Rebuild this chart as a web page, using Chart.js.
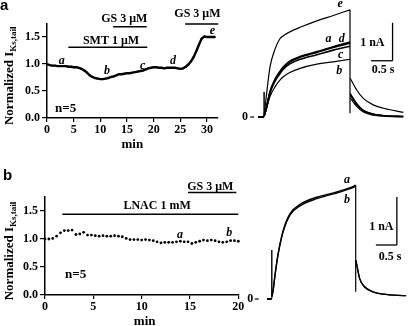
<!DOCTYPE html>
<html><head><meta charset="utf-8">
<script src="https://cdn.jsdelivr.net/npm/chart.js@4.4.1/dist/chart.umd.min.js"></script>
<style>
html,body{margin:0;padding:0;background:#fff;}
#wrap{position:relative;width:409px;height:326px;overflow:hidden;background:#fff;}
canvas{position:absolute;left:0;top:0;}
</style></head><body>
<div id="wrap">
<canvas id="c1" width="409" height="326"></canvas>
<canvas id="c2" width="409" height="326"></canvas>
<canvas id="c3" width="409" height="326"></canvas>
<canvas id="c4" width="409" height="326"></canvas>
</div>
<script>
// ---------- DATA ----------
// Panel a (left): normalized IKs,tail vs time (min)
const timeA = [0,0.5,1,1.5,2,2.5,3,3.5,4,4.5,5,5.5,6,6.5,7,7.5,8,8.5,9,9.5,10,10.5,11,11.5,12,12.5,13,13.5,14,14.5,15,15.5,16,16.5,17,17.5,18,18.5,19,19.5,20,20.5,21,21.5,22,22.5,23,23.5,24,24.5,25,25.5,26,26.5,27,27.5,28,28.5,29,29.5,30,30.5,31,31.5];
const ikA = [1.00,0.98,0.97,0.97,0.96,0.96,0.96,0.96,0.95,0.95,0.94,0.94,0.93,0.91,0.88,0.84,0.79,0.76,0.74,0.73,0.72,0.72,0.73,0.74,0.76,0.77,0.79,0.81,0.81,0.82,0.83,0.83,0.84,0.85,0.86,0.87,0.88,0.90,0.92,0.93,0.94,0.94,0.93,0.93,0.92,0.93,0.93,0.93,0.93,0.92,0.91,0.92,0.95,0.99,1.05,1.13,1.24,1.36,1.47,1.51,1.50,1.50,1.50,1.50];
// Panel b (left)
const timeB = [0,0.4,0.8,1.2,1.6,2.0,2.4,2.8,3.2,3.6,4.0,4.4,4.8,5.2,5.6,6.0,6.4,6.8,7.2,7.6,8.0,8.4,8.8,9.2,9.6,10.0,10.4,10.8,11.2,11.6,12.0,12.4,12.8,13.2,13.6,14.0,14.4,14.8,15.2,15.6,16.0,16.4,16.8,17.2,17.6,18.0,18.4,18.8,19.2,19.6,20.0];
const ikB = [1.00,1.00,1.01,1.05,1.11,1.15,1.15,1.16,1.08,1.09,1.12,1.07,1.07,1.06,1.05,1.06,1.05,1.05,1.06,1.05,1.04,1.01,0.99,0.99,0.99,0.98,0.99,0.98,0.97,0.95,0.93,0.94,0.94,0.94,0.95,0.96,0.95,0.95,0.92,0.94,0.96,0.98,0.97,0.98,0.97,0.95,0.94,0.95,0.97,0.97,0.96];
const xTicksA = [0,5,10,15,20,25,30];
const xTicksB = [0,5,10,15,20];
const yTicks = [0,0.5,1.0,1.5];

// Panel a (right): current traces (nA) vs time (s)
const actTimeA = [0.005,0.06,0.14,0.26,0.37,0.45,0.6,0.84,1.23,1.61,2.0];
const actE = [0.05,0.61,1.32,1.80,2.06,2.14,2.24,2.36,2.53,2.67,2.82];
const actAa = [0.03,0.27,0.67,1.00,1.20,1.32,1.47,1.59,1.72,1.85,1.97];
const actD = [0.03,0.26,0.66,0.99,1.18,1.30,1.45,1.57,1.70,1.83,1.94];
const actC = [0.03,0.25,0.63,0.95,1.14,1.26,1.40,1.52,1.64,1.76,1.86];
const actBb = [0.02,0.23,0.54,0.80,0.97,1.06,1.17,1.28,1.39,1.45,1.52];
const tailTimeA = [2.005,2.155,2.31,2.54,2.78,3.24];
const tailE = [1.02,0.71,0.49,0.32,0.23,0.12];
const tailAa = [0.62,0.36,0.18,0.08,0.04,0.02];
const tailD = [0.60,0.34,0.17,0.08,0.04,0.02];
const tailC = [0.57,0.32,0.16,0.07,0.03,0.01];
const tailBb = [0.50,0.28,0.13,0.05,0.02,0.00];
const stepTimeA = [-0.14,0,0,0.005];
const stepValA = [0,0,0.66,0.03];
const dropTimeA = [2.0,2.0];
const dropValA = [2.82,0.10];

// Panel b (right)
const actTimeB = [0.005,0.04,0.079,0.159,0.278,0.437,0.675,1.07,1.47,1.87,2.0];
const actBa = [0.05,0.22,0.50,0.97,1.44,1.78,1.97,2.12,2.21,2.32,2.37];
const actBbb = [0.05,0.22,0.50,0.96,1.42,1.75,1.94,2.09,2.19,2.30,2.35];
const tailTimeB = [2.005,2.095,2.21,2.41,2.65,3.2];
const tailBa = [0.81,0.43,0.26,0.15,0.10,0.07];
const tailBbb = [0.80,0.42,0.25,0.15,0.10,0.07];
const stepTimeB = [-0.11,0,0,0.005];
const stepValB = [0,0,1.02,0.05];
const dropTimeB = [2.0,2.0];
const dropValB = [2.37,0.15];

// ---------- HELPERS ----------
Chart.defaults.color = '#000';
Chart.defaults.animation = false;
const SERIF = '"Liberation Serif", "Times New Roman", serif';
const LF = 'bold 12px ' + SERIF;
const LF13 = 'bold 13px ' + SERIF;
const IF = 'italic bold 12px ' + SERIF;
const pts = (t, v) => t.map((x, i) => ({x: x, y: v[i]}));

function drawYTitle(ctx, cx, cy) {
  ctx.save();
  ctx.translate(cx, cy);
  ctx.rotate(-Math.PI / 2);
  const main = 'Normalized I', sub = 'Ks,tail';
  const f1 = 'bold 13px ' + SERIF, f2 = 'bold 9px ' + SERIF;
  ctx.font = f1; const w1 = ctx.measureText(main).width;
  ctx.font = f2; const w2 = ctx.measureText(sub).width;
  const s = -(w1 + w2) / 2;
  ctx.textAlign = 'left'; ctx.textBaseline = 'alphabetic'; ctx.fillStyle = '#000';
  ctx.font = f1; ctx.fillText(main, s, 4);
  ctx.font = f2; ctx.fillText(sub, s + w1, 7);
  ctx.restore();
}

const notesPlugin = {
  id: 'notes',
  afterDraw(chart, args, opts) {
    const ctx = chart.ctx, x = chart.scales.x, y = chart.scales.y;
    ctx.save();
    ctx.fillStyle = '#000'; ctx.strokeStyle = '#000';
    (opts.bars || []).forEach(b => {
      ctx.lineWidth = b.w || 1.5;
      ctx.beginPath();
      ctx.moveTo(x.getPixelForValue(b.x1), y.getPixelForValue(b.y1));
      ctx.lineTo(x.getPixelForValue(b.x2), y.getPixelForValue(b.y2));
      ctx.stroke();
    });
    (opts.texts || []).forEach(t => {
      ctx.font = t.font; ctx.textAlign = t.align || 'center'; ctx.textBaseline = 'middle';
      ctx.fillText(t.s, x.getPixelForValue(t.x), y.getPixelForValue(t.y));
    });
    const ca = chart.chartArea;
    if (opts.yTitle) drawYTitle(ctx, 8.5, (ca.top + ca.bottom) / 2 + 5);
    if (opts.xTitle) {
      ctx.font = LF13; ctx.textAlign = 'center'; ctx.textBaseline = 'middle';
      ctx.fillText(opts.xTitle, (ca.left + ca.right) / 2 + (opts.xTitleShift || 0), ca.bottom + 27);
    }
    if (opts.panel) {
      ctx.font = 'bold 15px "Liberation Sans", Arial, sans-serif';
      ctx.textAlign = 'left'; ctx.textBaseline = 'alphabetic';
      ctx.fillText(opts.panel.s, opts.panel.px, opts.panel.py);
    }
    ctx.restore();
  }
};
Chart.register(notesPlugin);

function axisX(min, max, ticks) {
  return {
    type: 'linear', min: min, max: max,
    afterBuildTicks: s => { s.ticks = ticks.map(v => ({value: v})); },
    afterFit: s => { s.height = 30; },
    ticks: {font: {family: SERIF, weight: 'bold', size: 12}, color: '#000', padding: 1, maxRotation: 0, autoSkip: false},
    grid: {drawOnChartArea: false, drawTicks: true, tickLength: 4, color: '#000', lineWidth: 1.2},
    border: {display: true, color: '#000', width: 1.5}
  };
}
function axisY() {
  return {
    type: 'linear', min: 0, max: 1.75,
    afterBuildTicks: s => { s.ticks = yTicks.map(v => ({value: v})); },
    afterFit: s => { s.width = 30; },
    ticks: {font: {family: SERIF, weight: 'bold', size: 12}, color: '#000', padding: 2, callback: v => v.toFixed(1)},
    grid: {drawOnChartArea: false, drawTicks: true, tickLength: 5, color: '#000', lineWidth: 1.2},
    border: {display: true, color: '#000', width: 1.5}
  };
}
const hidden = (min, max) => ({type: 'linear', min: min, max: max, display: false});
function trace(t, v, w) {
  return {data: pts(t, v), borderColor: '#000', borderWidth: w || 1.2, pointRadius: 0,
          fill: false, cubicInterpolationMode: 'monotone', clip: false};
}
function straight(t, v, w) {
  return {data: pts(t, v), borderColor: '#000', borderWidth: w || 1.2, pointRadius: 0,
          fill: false, tension: 0, clip: false};
}
const baseOpts = (padding, scales, notes) => ({
  responsive: false, animation: false, events: [],
  layout: {padding: padding},
  plugins: {legend: {display: false}, tooltip: {enabled: false}, notes: notes},
  scales: scales
});

// ---------- Panel a left ----------
new Chart(document.getElementById('c1'), {
  type: 'line',
  data: {datasets: [{
    data: pts(timeA, ikA), borderColor: '#000', borderWidth: 2.4, pointStyle: 'rect',
    pointRadius: 1.2, pointBackgroundColor: '#000', pointBorderWidth: 0, tension: 0, clip: false
  }]},
  options: baseOpts({left: 17, top: 23.5, right: 191.3, bottom: 178},
    {x: axisX(0, 32, xTicksA), y: axisY()},
    {
      bars: [{x1: 12.4, x2: 18.7, y1: 1.69, y2: 1.69}, {x1: 4.0, x2: 18.8, y1: 1.31, y2: 1.31},
             {x1: 25.9, x2: 32.1, y1: 1.74, y2: 1.74}],
      texts: [
        {s: 'GS 3 μM', x: 14.5, y: 1.84, font: LF}, {s: 'SMT 1 μM', x: 12.0, y: 1.435, font: LF},
        {s: 'GS 3 μM', x: 28.2, y: 1.92, font: LF},
        {s: 'a', x: 2.76, y: 1.06, font: IF}, {s: 'b', x: 11.25, y: 0.87, font: IF},
        {s: 'c', x: 17.95, y: 0.96, font: IF}, {s: 'd', x: 23.6, y: 1.06, font: IF},
        {s: 'e', x: 31.0, y: 1.61, font: IF},
        {s: 'n=5', x: 1.5, y: 0.17, font: LF13, align: 'left'}
      ],
      yTitle: true, xTitle: 'min', panel: {s: 'a', px: 0, py: 10}
    })
});

// ---------- Panel a right ----------
new Chart(document.getElementById('c2'), {
  type: 'line',
  data: {datasets: [
    straight(stepTimeA, stepValA, 1.0), straight(dropTimeA, dropValA, 1.2),
    trace(actTimeA, actE), trace(actTimeA, actAa, 1.6), trace(actTimeA, actD, 1.6), trace(actTimeA, actC, 1.6), trace(actTimeA, actBb),
    trace(tailTimeA, tailE), trace(tailTimeA, tailAa), trace(tailTimeA, tailD), trace(tailTimeA, tailC), trace(tailTimeA, tailBb)
  ]},
  options: baseOpts({left: 242.5, top: 3, right: 3.1, bottom: 197.6},
    {x: hidden(-0.5, 3.3), y: hidden(-0.3, 3.0)},
    {
      bars: [{x1: 2.99, x2: 2.99, y1: 1.48, y2: 2.48, w: 1.3}, {x1: 2.49, x2: 2.99, y1: 1.48, y2: 1.48, w: 1.3},
             {x1: -0.32, x2: -0.23, y1: 0, y2: 0, w: 1.2}, {x1: -0.14, x2: 0, y1: 0, y2: 0, w: 2}],
      texts: [
        {s: 'e', x: 1.77, y: 2.97, font: IF}, {s: 'a', x: 1.50, y: 2.05, font: IF},
        {s: 'd', x: 1.81, y: 2.05, font: IF}, {s: 'c', x: 1.78, y: 1.63, font: IF},
        {s: 'b', x: 1.75, y: 1.21, font: IF},
        {s: '1 nA', x: 2.52, y: 1.96, font: LF}, {s: '0.5 s', x: 2.77, y: 1.24, font: LF},
        {s: '0', x: -0.44, y: 0, font: LF}
      ]
    })
});

// ---------- Panel b left ----------
new Chart(document.getElementById('c3'), {
  type: 'line',
  data: {datasets: [{
    data: pts(timeB, ikB), showLine: false, pointStyle: 'circle', pointRadius: 1.4,
    pointBackgroundColor: '#000', pointBorderColor: '#000', pointBorderWidth: 0, clip: false
  }]},
  options: baseOpts({left: 15, top: 197, right: 170.7, bottom: 1},
    {x: axisX(0, 20, xTicksB), y: axisY()},
    {
      bars: [{x1: 14.8, x2: 19.8, y1: 1.83, y2: 1.83}, {x1: 1.8, x2: 20.0, y1: 1.44, y2: 1.44}],
      texts: [
        {s: 'GS 3 μM', x: 17.1, y: 1.93, font: LF}, {s: 'LNAC 1 mM', x: 11.6, y: 1.59, font: LF},
        {s: 'a', x: 13.96, y: 1.07, font: IF}, {s: 'b', x: 19.06, y: 1.10, font: IF},
        {s: 'n=5', x: 2.07, y: 0.36, font: LF13, align: 'left'}
      ],
      yTitle: true, xTitle: 'min', xTitleShift: 3, panel: {s: 'b', px: 3, py: 180}
    })
});

// ---------- Panel b right ----------
new Chart(document.getElementById('c4'), {
  type: 'line',
  data: {datasets: [
    straight(stepTimeB, stepValB, 1.0), straight(dropTimeB, dropValB, 1.2),
    trace(actTimeB, actBa, 1.4), trace(actTimeB, actBbb, 1.4),
    trace(tailTimeB, tailBa, 1.3), trace(tailTimeB, tailBbb, 1.3)
  ]},
  options: baseOpts({left: 246.5, top: 159.8, right: 2.9, bottom: 7.8},
    {x: hidden(-0.6, 3.2), y: hidden(-0.4, 2.9)},
    {
      bars: [{x1: 2.98, x2: 2.98, y1: 1.125, y2: 2.125, w: 1.3}, {x1: 2.48, x2: 2.98, y1: 1.125, y2: 1.125, w: 1.3},
             {x1: -0.40, x2: -0.31, y1: 0, y2: 0, w: 1.2}, {x1: -0.11, x2: 0, y1: 0, y2: 0, w: 2}],
      texts: [
        {s: 'a', x: 1.79, y: 2.48, font: IF}, {s: 'b', x: 1.79, y: 2.06, font: IF},
        {s: '1 nA', x: 2.61, y: 1.51, font: LF}, {s: '0.5 s', x: 2.82, y: 0.875, font: LF},
        {s: '0', x: -0.51, y: 0, font: LF}
      ]
    })
});
</script>
</body></html>
